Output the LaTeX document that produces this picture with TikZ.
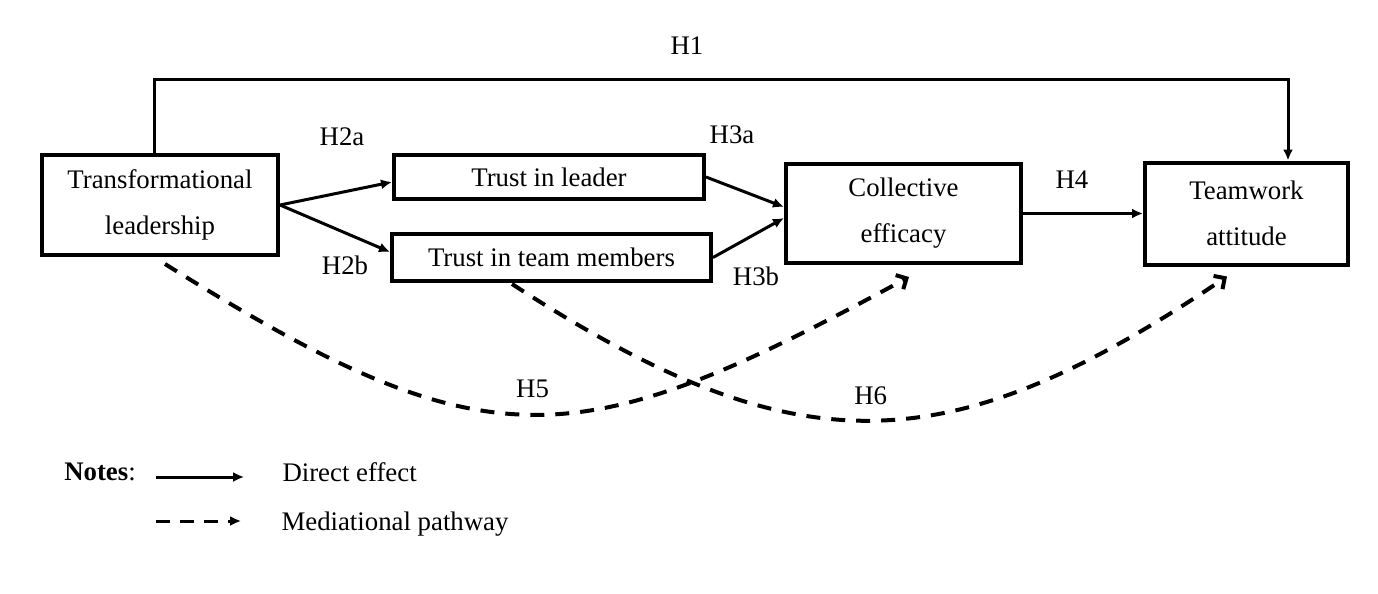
\documentclass[tikz,border=0pt]{standalone}
\usepackage{fontspec}
\setmainfont{Liberation Serif}
\usetikzlibrary{positioning,arrows.meta}

\begin{document}
\begin{tikzpicture}[
  node distance=1cm,
  construct/.style={rectangle, draw, line width=2pt, inner sep=2pt, align=center,
                    font=\fontsize{13.4}{23}\selectfont},
  lbl/.style={inner sep=0pt, font=\fontsize{13.4}{16}\selectfont},
  eff/.style={-{Latex[length=5.5pt,width=5pt]}, line width=1.5pt},
  med/.style={-{Straight Barb[length=4pt,width=8pt]}, line width=2pt,
              dash pattern=on 7pt off 5.5pt} % open head, dashed body
]
\useasboundingbox (0,0) rectangle (689pt,-297pt);

% ====== CONSTRUCTS ======
\node[construct, minimum width=118pt, minimum height=50pt] (tl) at (80pt,-102.5pt) {Transformational\\leadership};
\node[construct, minimum width=155pt, minimum height=22pt, right=56pt of tl, yshift=14pt] (til) {Trust in leader};
\node[construct, minimum width=159.5pt, minimum height=23.5pt, below=15.5pt of til, xshift=1.25pt] (titm) {Trust in team members};
\node[construct, minimum width=117.5pt, minimum height=49.5pt, right=252pt of tl, yshift=-4.25pt] (ce) {Collective\\efficacy};
\node[construct, minimum width=101.5pt, minimum height=51pt, right=60pt of ce] (ta) {Teamwork\\attitude};

% ====== DIRECT EFFECTS ======
\draw[eff] ([xshift=-3pt]tl.north) -- ++(0,37pt) -| node[lbl, pos=0.235, yshift=16.5pt] (h1) {H1} ([xshift=20.75pt]ta.north);

\draw[eff] (tl.east) -- node[lbl, midway, xshift=3pt, yshift=28.25pt] (h2a) {H2a} ([yshift=-2.5pt]til.west);
\draw[eff] (tl.east) -- node[lbl, midway, xshift=5pt, yshift=-18.5pt] (h2b) {H2b} ([yshift=2.75pt]titm.west);

\draw[eff] (til.east) -- node[lbl, midway, xshift=-6.5pt, yshift=28.5pt] (h3a) {H3a} ([yshift=3.25pt]ce.west);
\draw[eff] (titm.east) -- node[lbl, midway, xshift=3.75pt, yshift=-19.5pt] (h3b) {H3b} ([yshift=-2.25pt]ce.west);

\draw[eff] (ce.east) -- node[lbl, midway, xshift=-5.5pt, yshift=16.9pt] (h4) {H4} (ta.west);

% ====== MEDIATIONAL PATHWAYS ======
\draw[med] ([xshift=2.5pt,yshift=-3.5pt]tl.south) to[out=-32, in=208.5, looseness=1.31]
  node[lbl, midway, yshift=13pt] (h5) {H5} ([xshift=2.75pt,yshift=-6pt]ce.south);
\draw[med] ([xshift=-19.75pt,yshift=-0.5pt]titm.south) to[out=-33, in=214, looseness=1.21]
  node[lbl, midway, yshift=12.5pt] (h6) {H6} ([xshift=-9.75pt,yshift=-5pt]ta.south);

% ====== LEGEND ======
\node[lbl] (notes) at (50pt,-236pt) {\textbf{Notes}:};
\coordinate[right=10pt of notes, yshift=-2.5pt] (d0);
\coordinate[right=44pt of d0] (d1);
\draw[eff] (d0) -- (d1);
\node[lbl, right=19pt of d1, anchor=base west, yshift=-2pt] (direct) {Direct effect};

\coordinate[below=22pt of d0] (m0);
\coordinate[right=42.5pt of m0] (m1);
\draw[eff, dash pattern=on 7pt off 5pt] (m0) -- (m1);
\node[lbl, right=20pt of m1, anchor=base west, yshift=-4.5pt] (mediational) {Mediational pathway};

\end{tikzpicture}
\end{document}
